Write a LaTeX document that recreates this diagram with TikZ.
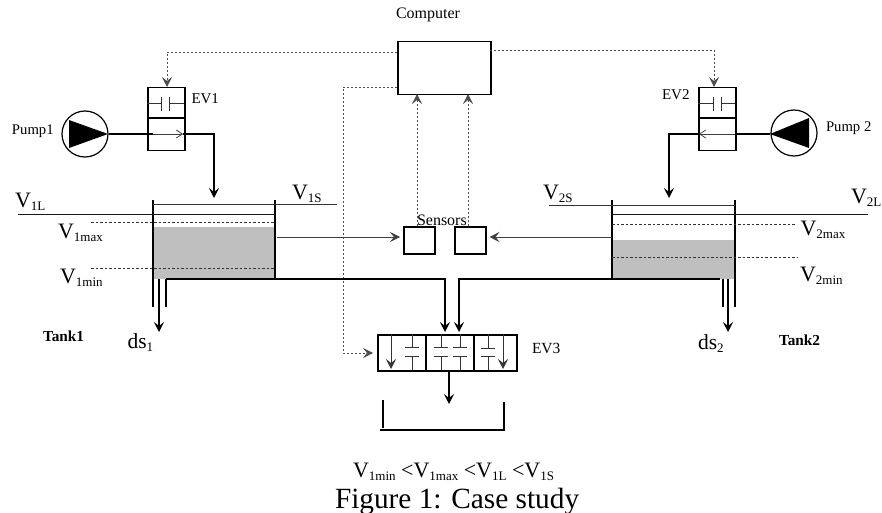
\documentclass[tikz,border=0pt]{standalone}
\usepackage{fontspec}
\setmainfont{Liberation Serif}
\usetikzlibrary{arrows.meta}
\newcommand{\fs}[1]{\fontsize{#1}{#1}\selectfont}
\newcommand{\Vsub}[2]{{\fs{22}V}\raisebox{-3pt}{\fs{13}#1#2}}
\tikzset{
  x=1pt,y=-1pt,
  tip/.style={-{Stealth[length=10pt,width=10pt,inset=4pt]}},
  pipe/.style={line width=1.5pt,black},
  thin line/.style={line width=0.8pt,black!75},
  sig/.style={line width=0.7pt,black!70,dash pattern=on 2pt off 2pt},
  levdash/.style={line width=0.8pt,black!80,dash pattern=on 2.5pt off 2pt},
  boxn/.style={draw,line width=1.5pt,minimum width=0pt,inner sep=0pt,anchor=north west},
  lbl/.style={anchor=base west,inner sep=0pt,outer sep=0pt},
  symb/.style={line width=0.9pt,black!80},
  liquid/.style={fill=black!25,draw=none},
  wall/.style={line width=1.5pt,black},
}
\begin{document}
\begin{tikzpicture}
\useasboundingbox (0,0) rectangle (882,513);
% liquids
\fill[liquid] (153,227) rectangle (275,279);
\fill[liquid] (612,240) rectangle (735,279);
% boxes
\node[boxn,minimum width=93pt,minimum height=53pt] (computer) at (397,41) {};
\node[boxn,minimum width=37pt,minimum height=63pt] (ev1) at (147,87) {};
\node[boxn,minimum width=37pt,minimum height=63pt] (ev2) at (698,87) {};
\node[boxn,minimum width=31pt,minimum height=27pt] (sens1) at (403,226) {};
\node[boxn,minimum width=31pt,minimum height=27pt] (sens2) at (454,226) {};
\node[boxn,minimum width=139pt,minimum height=36pt] (ev3) at (377,334) {};
\node[draw,circle,line width=1.2pt,minimum size=46pt,inner sep=0pt] (pump1) at (85,134) {};
\node[draw,circle,line width=1.2pt,minimum size=46pt,inner sep=0pt] (pump2) at (794,133) {};
% pump triangles
\fill (69,120) -- (108,134) -- (69,148) -- cycle;
\fill (809,118) -- (770,134) -- (809,148) -- cycle;
% EV1, EV2 internals
\draw[pipe] (147,118) -- (184,118);
\draw[pipe] (698,118) -- (735,118);
\draw[symb] (147,103) -- (161,103) (161,97) -- (161,111) (169.5,97) -- (169.5,111) (169.5,103) -- (184,103);
\draw[symb] (698,103) -- (713,103) (713,97) -- (713,111) (721,97) -- (721,111) (721,103) -- (735,103);
% pump pipes
\coordinate (p1in) at (153,134);
\coordinate (p1out) at (183,134);
\coordinate (t1in) at (214,198);
\draw[pipe] (pump1.east) -- (p1in);
\draw[thin line,-{Straight Barb[length=6pt,width=8pt]}] (p1in) -- (p1out);
\draw[pipe,tip] (p1out) -- (214,134) -- (t1in);
\coordinate (p2in) at (735,134);
\coordinate (p2out) at (699,134);
\coordinate (t2in) at (669,198);
\draw[pipe] (770,134) -- (p2in);
\draw[thin line,-{Straight Barb[length=6pt,width=8pt]}] (p2in) -- (p2out);
\draw[pipe,tip] (p2out) -- (669,134) -- (t2in);
% signal lines
\draw[sig,tip] (397,52) -- (167,52) -- (ev1.north -| 167,0);
\draw[sig,tip] (490,50) -- (714,50) -- (714,87);
\draw[sig,tip,shorten >=4pt] (397,87) -- (343,87) -- (343,353) -- (ev3.west |- 0,353);
\draw[sig,tip] (417,226) -- (417,94);
\draw[sig,tip] (468,226) -- (468,94);
% Tank 1
\draw[wall] (153,200) -- (153,307);
\draw[wall] (275,200) -- (275,279);
\draw[thin line,black!80] (153,204) -- (337,204);
\draw[thin line,black!90] (18,214) -- (275,214);
\draw[levdash] (91,222) -- (275,222);
\draw[levdash] (91,268) -- (275,268);
\coordinate (s1y) at (277,237);
\draw[thin line,tip,shorten >=3pt] (s1y) -- (sens1.west |- s1y);
% Tank 2
\draw[wall] (612,200) -- (612,279);
\draw[wall] (735,200) -- (735,307);
\draw[thin line,black!80] (549,205) -- (735,205);
\draw[thin line,black!90] (612,214) -- (868,214);
\draw[levdash] (612,224) -- (795,224);
\draw[levdash] (612,257) -- (797,257);
\coordinate (s2y) at (612,237);
\draw[thin line,tip,shorten >=3pt] (s2y) -- (sens2.east |- s2y);
% outlets
\draw[pipe] (166,307) -- (166,279);
\draw[pipe,tip] (166,279) -- (445,279) -- (445,332);
\draw[pipe] (723,307) -- (723,279);
\draw[pipe,tip] (720,279) -- (459,279) -- (459,332);
\draw[pipe,tip] (159,279) -- (159,332);
\draw[pipe,tip] (728,279) -- (728,332);
% EV3 internals
\draw[pipe] (426,334) -- (426,370) (474,334) -- (474,370);
\draw[symb,tip,line width=0.9pt] (391,334) -- (391,369);
\draw[symb,tip,line width=0.9pt] (503,334) -- (503,369);
\draw[symb] (412,334) -- (412,347) (405,347) -- (419,347) (405,356) -- (419,356) (412,356) -- (412,370);
\draw[symb] (441,334) -- (441,347) (434,347) -- (448,347) (434,356) -- (448,356) (441,356) -- (441,370);
\draw[symb] (460,334) -- (460,347) (453,347) -- (467,347) (453,356) -- (467,356) (460,356) -- (460,370);
\draw[symb] (488,334) -- (488,348) (481,348) -- (495,348) (481,356) -- (495,356) (488,356) -- (488,370);
% output and bin
\coordinate (binin) at (449,404);
\draw[pipe,tip] (449,370) -- (binin);
\draw[pipe] (383,400) -- (383,428);
\draw[pipe] (380,430) -- (504,430) -- (504,402);
% labels
\node[lbl] (lcomp) at (396,19) {\fs{16}Computer};
\node[lbl] (lsens) at (417,225) {\fs{16}Sensors};
\node[lbl] (lp1) at (12,135) {\fs{14.7}Pump1};
\node[lbl] (lp2) at (826,132) {\fs{14.7}Pump 2};
\node[lbl] (lev1) at (191.5,104) {\fs{15}EV1};
\node[lbl] (lev2) at (662,100) {\fs{15}EV2};
\node[lbl] (lev3) at (532,353) {\fs{15.5}EV3};
\node[lbl] (v1l) at (15,207) {\Vsub{1}{L}};
\node[lbl] (v1s) at (292,199) {\Vsub{1}{S}};
\node[lbl] (v1max) at (58,238) {\Vsub{1}{max}};
\node[lbl] (v1min) at (60,283) {\Vsub{1}{min}};
\node[lbl] (v2s) at (543,199) {\Vsub{2}{S}};
\node[lbl] (v2l) at (851,203) {\Vsub{2}{L}};
\node[lbl] (v2max) at (800.5,235) {\Vsub{2}{max}};
\node[lbl] (v2min) at (800,281) {\Vsub{2}{min}};
\node[lbl] (ds1) at (127.5,348) {{\fs{21.5}ds}\raisebox{-3pt}{\fs{13}1}};
\node[lbl] (ds2) at (698,349) {{\fs{21.5}ds}\raisebox{-3pt}{\fs{13}2}};
\node[lbl] (tk1) at (43,341) {\fs{15.3}\bfseries Tank1};
\node[lbl] (tk2) at (779,345) {\fs{15.3}\bfseries Tank2};
\node[lbl] (ineq) at (353,477) {\Vsub{1}{min}\fs{22} <\Vsub{1}{max}\fs{22} <\Vsub{1}{L}\fs{22} <\Vsub{1}{S}};
\node[lbl] (cap) at (335,508) {\fs{29.3}Figure 1: Case study};
\end{tikzpicture}
\end{document}
